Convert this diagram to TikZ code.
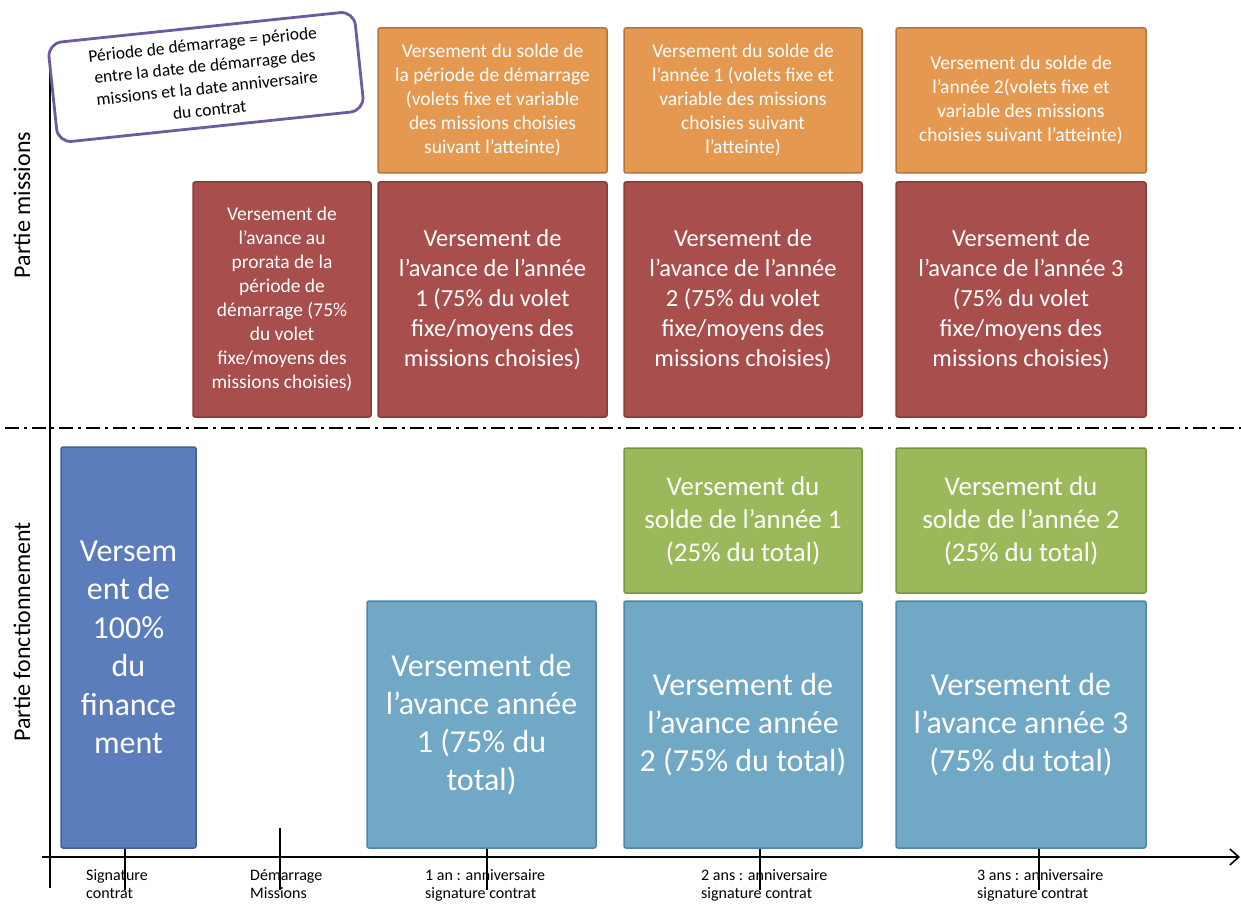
\documentclass[tikz,border=0pt]{standalone}
\usepackage{fontspec}
\setmainfont{Carlito}
\usetikzlibrary{arrows.meta}
\definecolor{cRed}{HTML}{A84E4C}
\definecolor{cRedB}{HTML}{8A3C3A}
\definecolor{cOr}{HTML}{E49850}
\definecolor{cOrB}{HTML}{B87436}
\definecolor{cGr}{HTML}{9BB95A}
\definecolor{cGrB}{HTML}{7A9444}
\definecolor{cLb}{HTML}{70A8C6}
\definecolor{cLbB}{HTML}{4F86A3}
\definecolor{cDb}{HTML}{5B7DBB}
\definecolor{cDbB}{HTML}{42609A}
\definecolor{cPur}{HTML}{6F5AA0}
\begin{document}
\begin{tikzpicture}[x=1pt,y=-1pt,
  box/.style={draw, line width=1.5pt, rounded corners=2pt, text=white, inner sep=0pt, align=center},
  redbox/.style={box, fill=cRed, draw=cRedB},
  orbox/.style={box, fill=cOr, draw=cOrB, font=\fontsize{19.5}{24}\selectfont},
  grbox/.style={box, fill=cGr, draw=cGrB, font=\fontsize{27}{33}\selectfont},
  lbbox/.style={box, fill=cLb, draw=cLbB, font=\fontsize{32}{38}\selectfont},
  dbbox/.style={box, fill=cDb, draw=cDbB, font=\fontsize{32}{38.5}\selectfont},
  bigred/.style={redbox, font=\fontsize{24.5}{30}\selectfont},
  smallred/.style={redbox, font=\fontsize{19.5}{24}\selectfont},
  axisline/.style={line width=1.6pt, black},
  ticklab/.style={anchor=north west, align=left, inner sep=0pt, font=\fontsize{16}{18}\selectfont},
  sidelab/.style={rotate=90, inner sep=0pt, font=\fontsize{24}{28}\selectfont}]
\useasboundingbox (0,0) rectangle (1241,904);
\fill[white] (0,0) rectangle (1241,904);

% axes (drawn first so the callout covers the top of the vertical axis)
\coordinate (yTop) at (50,60);
\coordinate (yBot) at (50,888);
\coordinate (xL) at (42,857);
\coordinate (xR) at (1240,857);
\draw[axisline] (yTop) -- (yBot);
\draw[axisline, -{Straight Barb[length=9pt,width=16pt,line width=1.6pt]}] (xL) -- (xR);

% orange boxes
\node[orbox, minimum width=229pt, minimum height=145pt] (o1) at (492.5,100.5)
  {Versement du solde de\\la période de démarrage\\(volets fixe et variable\\des missions choisies\\suivant l’atteinte)};
\node[orbox, minimum width=238pt, minimum height=145pt] (o2) at (743,100.5)
  {Versement du solde de\\l’année 1 (volets fixe et\\variable des missions\\choisies suivant\\l’atteinte)};
\node[orbox, minimum width=250pt, minimum height=145pt] (o3) at (1021,100.5)
  {Versement du solde de\\l’année 2(volets fixe et\\variable des missions\\choisies suivant l’atteinte)};

% red boxes
\node[smallred, minimum width=178pt, minimum height=235pt] (r1) at (282,299.5)
  {Versement de\\l’avance au\\prorata de la\\période de\\démarrage (75\%\\du volet\\fixe/moyens des\\missions choisies)};
\node[bigred, minimum width=229pt, minimum height=235pt] (r2) at (492.5,299.5)
  {Versement de\\l’avance de l’année\\1 (75\% du volet\\fixe/moyens des\\missions choisies)};
\node[bigred, minimum width=238pt, minimum height=235pt] (r3) at (743,299.5)
  {Versement de\\l’avance de l’année\\2 (75\% du volet\\fixe/moyens des\\missions choisies)};
\node[bigred, minimum width=250pt, minimum height=235pt] (r4) at (1021,299.5)
  {Versement de\\l’avance de l’année 3\\(75\% du volet\\fixe/moyens des\\missions choisies)};

% separator
\coordinate (sepL) at (5,428);
\coordinate (sepR) at (1241,428);
\draw[line width=1.3pt, dash pattern=on 14pt off 5pt on 3pt off 5pt] (sepL) -- (sepR);

% green boxes
\node[grbox, minimum width=238pt, minimum height=145pt] (g1) at (743,520.5)
  {Versement du\\solde de l’année 1\\(25\% du total)};
\node[grbox, minimum width=250pt, minimum height=145pt] (g2) at (1021,520.5)
  {Versement du\\solde de l’année 2\\(25\% du total)};

% light blue boxes
\node[lbbox, minimum width=229pt, minimum height=247pt] (b1) at (481.5,724.5)
  {Versement de\\l’avance année\\1 (75\% du\\total)};
\node[lbbox, minimum width=238pt, minimum height=247pt] (b2) at (743,724.5)
  {Versement de\\l’avance année\\2 (75\% du total)};
\node[lbbox, minimum width=250pt, minimum height=247pt] (b3) at (1021,724.5)
  {Versement de\\l’avance année 3\\(75\% du total)};

% dark blue box
\node[dbbox, minimum width=135pt, minimum height=401pt] (d1) at (128.5,647.5)
  {Versem\\ent de\\100\%\\du\\finance\\ment};

% callout
\node[draw=cPur, line width=2.8pt, fill=white, rounded corners=14pt, rotate=6,
      minimum width=308pt, minimum height=100pt, inner sep=0pt, align=center,
      font=\fontsize{17.5}{22}\selectfont] (call) at (206,77)
  {Période de démarrage = période\\entre la date de démarrage des\\missions et la date anniversaire\\du contrat};

% side labels
\node[sidelab] (pm) at (22,205) {Partie missions};
\node[sidelab] (pf) at (22,632) {Partie fonctionnement};

% ticks
\coordinate (t1) at (125,890);
\coordinate (t2a) at (280,828);
\coordinate (t2) at (280,890);
\coordinate (t3) at (487,890);
\coordinate (t4) at (760,890);
\coordinate (t5) at (1039,890);
\draw[axisline] (d1.south -| t1) -- (t1);
\draw[axisline] (t2a) -- (t2);
\draw[axisline] (b1.south -| t3) -- (t3);
\draw[axisline] (b2.south -| t4) -- (t4);
\draw[axisline] (b3.south -| t5) -- (t5);

% tick labels
\node[ticklab] (l1) at (86,869) {Signature\\contrat};
\node[ticklab] (l2) at (250,869) {Démarrage\\Missions};
\node[ticklab] (l3) at (425,869) {1 an : anniversaire\\signature contrat};
\node[ticklab] (l4) at (701,869) {2 ans : anniversaire\\signature contrat};
\node[ticklab] (l5) at (977,869) {3 ans : anniversaire\\signature contrat};
\end{tikzpicture}
\end{document}
